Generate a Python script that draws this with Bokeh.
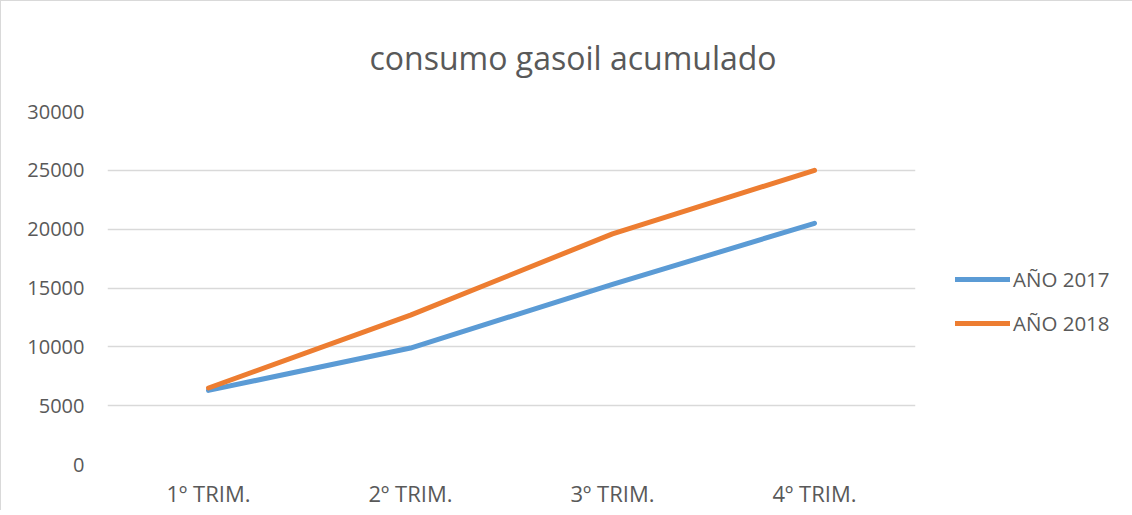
from bokeh.plotting import figure
from bokeh.models import FactorRange, Range1d, Legend, LegendItem, FixedTicker
from bokeh.embed import file_html
from bokeh.resources import INLINE

categories = ["1º TRIM.", "2º TRIM.", "3º TRIM.", "4º TRIM."]
anio_2017 = [6300, 9900, 15300, 20500]
anio_2018 = [6500, 12700, 19600, 25000]
y_ticks = [0, 5000, 10000, 15000, 20000, 25000, 30000]
series_names = ["AÑO 2017", "AÑO 2018"]
title_text = "consumo gasoil acumulado"

FONT = "Open Sans"
TXT = "#595959"

p = figure(frame_width=808, frame_height=353,
           x_range=FactorRange(*categories, range_padding=0),
           y_range=Range1d(0, 30000),
           output_backend="svg", toolbar_location=None,
           min_border_left=106, min_border_right=210,
           min_border_top=110, min_border_bottom=44)
p.styles = {"border-left": "1px solid #D9D9D9", "border-top": "1px solid #D9D9D9"}
p.outline_line_color = None
p.background_fill_color = "white"
p.border_fill_color = "white"

p.title.text = title_text
p.title.text_font = FONT
p.title.text_font_size = "32px"
p.title.text_font_style = "normal"
p.title.text_color = TXT
p.title.align = "left"
p.title.offset = 262
p.title.standoff = 65

r1 = p.line(categories, anio_2017, line_color="#5B9BD5", line_width=5, line_cap="round", line_join="round")
r2 = p.line(categories, anio_2018, line_color="#ED7D31", line_width=5, line_cap="round", line_join="round")

p.yaxis.ticker = FixedTicker(ticks=y_ticks)
for ax in (p.xaxis[0], p.yaxis[0]):
    ax.axis_line_color = None
    ax.major_tick_line_color = None
    ax.minor_tick_line_color = None
    ax.major_tick_out = 0
    ax.major_tick_in = 0
    ax.major_label_text_font = FONT
    ax.major_label_text_color = TXT
p.yaxis.major_label_text_font_size = "20px"
p.xaxis.major_label_text_font_size = "22px"
p.yaxis.major_label_standoff = 23
p.xaxis.major_label_standoff = 13

p.xgrid.grid_line_color = None
p.ygrid.grid_line_color = "#D9D9D9"
p.ygrid.grid_line_width = 1.5

legend = Legend(items=[LegendItem(label=series_names[0], renderers=[r1]),
                       LegendItem(label=series_names[1], renderers=[r2])],
                location=(40, 127))
legend.glyph_width = 55
legend.glyph_height = 20
legend.label_standoff = 3
legend.spacing = 16
legend.padding = 0
legend.margin = 0
legend.border_line_alpha = 0
legend.background_fill_alpha = 0
legend.label_text_font = FONT
legend.label_text_font_size = "20.5px"
legend.label_text_color = TXT
p.add_layout(legend, "right")

open("out.html", "w").write(file_html(p, INLINE))
